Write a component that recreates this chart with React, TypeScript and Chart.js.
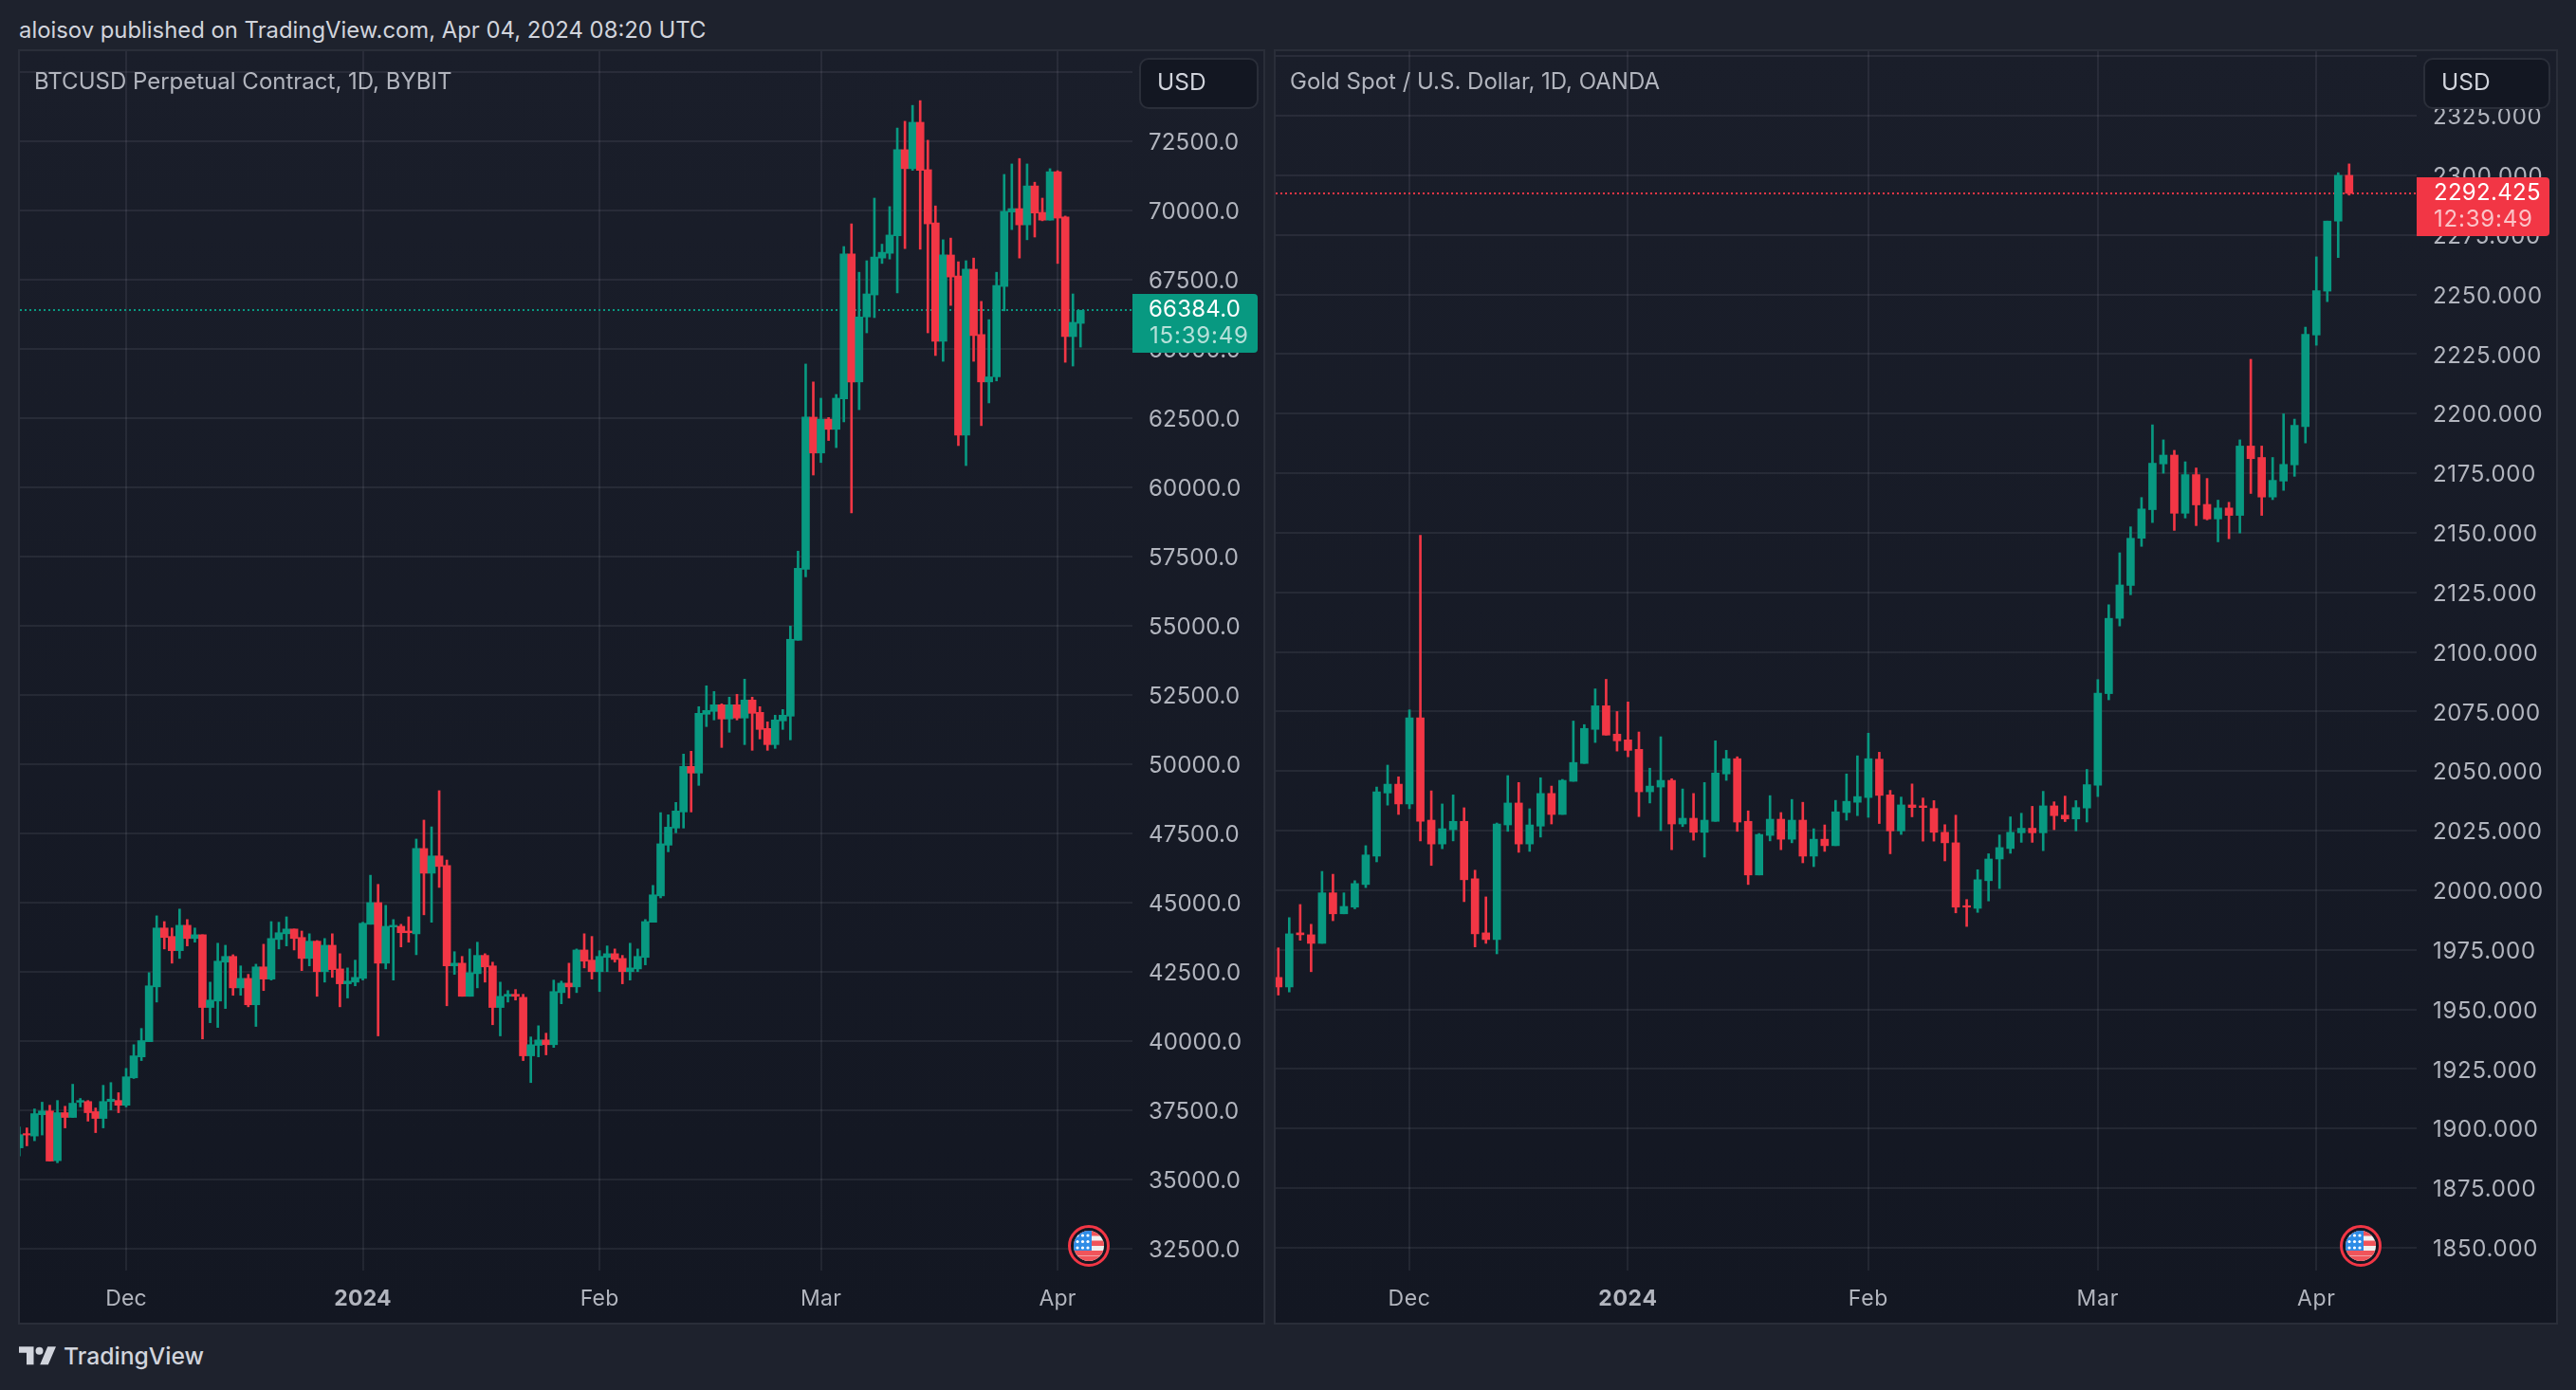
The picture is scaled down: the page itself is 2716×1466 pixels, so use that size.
import React, { useEffect, useRef } from "react";
import { Chart, registerables } from "chart.js";

Chart.register(...registerables);

const headerText = "aloisov published on TradingView.com, Apr 04, 2024 08:20 UTC";

const btcTitle = "BTCUSD Perpetual Contract, 1D, BYBIT";
const btcTimer = "15:39:49";
const btcYTicks = [32500, 35000, 37500, 40000, 42500, 45000, 47500, 50000, 52500, 55000, 57500, 60000, 62500, 65000, 67500, 70000, 72500, 75000];
const btcMonthIdx = [14, 45, 76, 105, 136];
const goldMonthIdx = [12, 32, 54, 75, 95];
const monthLabels = ["Dec", "2024", "Feb", "Mar", "Apr"];

const btcOpen = [36150,36664,36578,37347,37481,35687,37420,37249,37799,37823,37457,37213,37823,37860,37689,38678,39435,39984,41962,44087,
43782,43269,44185,43708,43843,41218,41450,42854,43061,41926,42268,41315,42683,42243,43672,43879,44050,43745,42988,43611,
42512,43464,42610,42072,42133,42268,44221,45003,42817,44124,44148,43977,43879,46956,46065,46688,46346,42719,42817,41621,
42439,43098,42719,41218,41621,41694,41584,39472,39850,40045,39875,41755,42097,41962,43293,42927,42512,43025,43159,42988,
42512,42610,43025,44295,45247,47077,47694,48276,49920,49680,51803,51906,52145,51632,52145,51666,52317,51871,51289,50707,
51563,51734,54474,57038,62528,61233,62455,62088,63188,68418,63799,66145,66939,68271,68442,69078,72182,71497,73172,71461,
69542,65265,68381,67624,61880,67868,65510,63799,63982,67245,69933,70055,69469,70874,69921,69640,71387,69750,65436,65913];
const btcHigh = [36908,36871,37555,37799,37689,37860,37652,38446,37933,37860,37591,38409,38507,38141,39020,39875,40461,42475,44527,44319,
44087,44771,44392,44087,43843,42133,43538,43464,43122,42719,42414,42781,43501,44319,44295,44490,44050,43977,43879,43635,
43708,43879,43159,42646,42927,44295,45992,45662,44905,44392,44221,44490,47298,47982,47738,49044,46541,43232,43061,43330,
43574,43159,42854,42133,41828,41865,41694,40155,40558,40290,42207,42170,42817,43330,43879,43782,43269,43440,43330,43098,
43538,43330,44392,45625,48251,48173,48619,50365,50468,52077,52830,52625,52180,52420,52522,53070,52420,52077,51529,51769,
51974,54988,57691,64446,63799,63212,62516,63347,68687,69506,67758,68174,70434,68772,70129,72964,73208,73783,73954,72524,
70153,68931,68992,68137,68174,68271,66707,66047,67758,71290,71668,71864,71668,71009,70434,71497,71424,69787,66976,66384];
const btcLow = [35857,36224,36407,36614,35674,35613,36871,37249,37628,37115,36700,36871,37518,37420,37628,38654,39301,39984,41413,43330,
42817,42988,43440,43574,40082,40668,40497,41181,41657,41657,41242,40534,41828,42207,43330,43440,43293,42549,42719,41621,
42133,42304,41242,41560,41999,42207,44221,40192,42610,42207,43403,43574,43122,44563,44295,45552,41279,42414,41621,41621,
41926,42133,40595,40192,41413,41486,39301,38507,39435,39508,39777,41352,41560,41755,42646,42243,41792,42512,42854,42072,
42207,42512,42756,44295,45174,46838,47523,47694,48276,49235,51358,51597,50604,51152,51597,50707,50501,50912,50501,50570,
51255,50878,54474,56763,60438,60890,61685,61428,62357,59070,62797,65571,66121,68076,68235,67013,68613,71436,68589,65571,
64752,64544,66561,61501,60780,64544,62222,63041,63835,66365,69298,68271,68931,69029,69616,69640,68076,64508,64373,65057];
const btcClose = [36627,36614,37384,37481,35674,37420,37249,37762,37860,37420,37213,37823,37909,37689,38715,39472,40021,41999,44087,43745,
43269,44185,43708,43843,41218,41486,42890,43061,41926,42268,41315,42683,42243,43708,43916,44050,43708,42988,43611,42512,
43464,42585,42072,42170,42304,44258,45003,42817,44148,44185,43916,43916,46956,46065,46688,46309,42719,42817,41621,42475,
43098,42683,41218,41621,41694,41621,39472,39875,40045,39875,41792,42097,41962,43293,42890,42512,43061,43159,42951,42512,
42646,43061,44319,45284,47127,47728,48310,49920,49680,51837,51940,52145,51632,52145,51666,52317,51837,51255,50707,51597,
51769,54509,57072,62528,61233,62455,62088,63212,68418,63799,66145,66976,68308,68479,69102,72182,71497,73172,71436,69506,
65265,68381,67587,61880,67868,65473,63799,63982,67281,69958,70055,69469,70874,69897,69640,71387,69713,65436,65950,66384];

const goldTitle = "Gold Spot / U.S. Dollar, 1D, OANDA";
const goldTimer = "12:39:49";
const goldYTicks = [1850,1875,1900,1925,1950,1975,2000,2025,2050,2075,2100,2125,2150,2175,2200,2225,2250,2275,2300,2325,2350];

const goldOpen = [1963.4,1959.4,1982.1,1981.3,1977.7,1998.9,1990.1,1992.9,2002.4,2014.3,2040.8,2044.5,2036.2,2072.3,2029.4,2019.4,2025.4,2028.9,2004.8,1982.1,
1979.3,2027.4,2036.6,2019.4,2026.9,2040.6,2031.8,2045.7,2053.2,2067.5,2077.4,2065.5,2063.1,2059.1,2041.3,2043.3,2046.1,2027.8,2030.2,2024.3,
2028.9,2048.8,2055.2,2028.9,2006.4,2023.0,2029.8,2021.4,2029.4,2014.3,2021.4,2018.7,2032.6,2036.9,2038.9,2055.0,2040.0,2024.9,2035.8,2035.4,
2034.3,2024.3,2019.9,1993.5,1992.4,2004.0,2013.1,2017.5,2024.1,2026.0,2024.1,2035.4,2031.5,2029.9,2034.5,2044.1,2082.5,2114.1,2127.9,2147.7,
2159.7,2178.9,2182.6,2158.2,2174.4,2161.9,2155.8,2160.4,2157.3,2186.4,2181.6,2165.0,2171.7,2178.5,2194.6,2233.0,2251.4,2280.8,2300.0];
const goldHigh = [1975.8,1988.5,1994.0,1985.7,2007.9,2006.7,1998.9,2004.0,2018.7,2043.3,2052.5,2047.6,2075.7,2148.9,2041.7,2036.2,2040.0,2034.6,2008.4,1997.2,
2028.2,2048.1,2045.2,2034.2,2047.2,2043.7,2046.5,2071.0,2069.5,2084.5,2088.5,2075.0,2079.0,2066.4,2051.2,2064.4,2046.8,2042.5,2040.6,2045.2,
2062.7,2058.7,2056.0,2033.3,2023.8,2039.7,2032.6,2038.1,2036.9,2025.8,2027.4,2037.7,2048.8,2056.4,2065.9,2057.9,2041.9,2039.1,2044.6,2038.7,
2037.6,2027.5,2031.5,1996.1,2008.6,2015.3,2023.2,2030.8,2032.3,2035.2,2041.5,2037.1,2039.5,2037.6,2050.7,2088.4,2119.8,2141.6,2152.5,2164.8,
2195.3,2189.0,2184.6,2179.8,2177.2,2172.8,2163.7,2162.8,2189.0,2222.8,2186.4,2181.6,2199.9,2197.7,2236.3,2265.8,2280.8,2301.1,2304.8];
const goldLow = [1956.0,1957.3,1979.0,1965.8,1977.7,1987.2,1990.1,1992.2,2001.1,2011.9,2035.7,2031.8,2034.2,2020.7,2010.4,2017.4,2020.7,1995.2,1976.2,1977.7,
1973.3,2024.7,2015.9,2016.3,2022.3,2027.8,2031.8,2045.7,2053.2,2062.0,2065.1,2058.4,2056.0,2030.9,2036.6,2025.0,2017.0,2026.7,2021.0,2013.9,
2028.9,2046.1,2024.7,2002.4,2006.4,2020.7,2017.0,2019.9,2011.5,2009.9,2016.3,2018.7,2029.4,2031.3,2030.6,2028.0,2015.3,2023.4,2030.8,2020.6,
2020.6,2012.3,1990.5,1984.8,1990.7,1995.5,2000.7,2015.5,2020.1,2020.1,2016.6,2025.4,2028.8,2024.9,2028.6,2039.3,2079.9,2110.9,2124.0,2144.3,
2154.3,2175.0,2151.0,2156.2,2153.0,2155.4,2146.2,2147.5,2149.9,2166.5,2157.3,2163.9,2167.8,2173.7,2187.7,2228.7,2247.0,2265.5,2291.7];
const goldClose = [1959.4,1981.7,1981.3,1977.7,1998.9,1990.1,1993.2,2002.8,2014.8,2041.3,2044.5,2036.2,2072.3,2028.9,2019.4,2025.8,2028.9,2004.4,1981.7,1979.3,
2027.8,2036.6,2019.4,2027.4,2040.6,2031.8,2046.1,2053.6,2067.9,2077.4,2065.1,2062.7,2058.7,2041.3,2043.7,2046.1,2027.8,2030.2,2024.3,2029.4,
2049.2,2055.2,2028.6,2006.4,2023.4,2029.8,2021.4,2029.4,2014.3,2021.4,2018.7,2032.9,2037.3,2039.3,2055.2,2039.8,2024.9,2035.8,2034.7,2034.7,
2024.3,2019.9,1992.9,1992.9,2004.4,2013.1,2017.9,2024.3,2026.0,2024.1,2035.4,2031.3,2029.9,2034.7,2044.3,2082.7,2114.1,2128.1,2147.7,2160.0,
2179.2,2182.6,2158.2,2174.4,2161.7,2155.8,2160.4,2157.3,2186.4,2181.1,2165.0,2172.0,2178.7,2195.1,2233.3,2251.6,2280.8,2300.0,2292.425];

const GREEN = "#089981";
const RED = "#f23645";
const FONT = "Inter";
const axisText = "#b2b5be";

function roundRect(ctx: any, x: number, y: number, w: number, h: number, r: number | number[]) {
  ctx.beginPath();
  ctx.roundRect(x, y, w, h, r);
}

function drawFlag(ctx: any, cx: number, cy: number) {
  ctx.save();
  ctx.beginPath();
  ctx.arc(cx, cy, 20.5, 0, Math.PI * 2);
  ctx.fillStyle = "#131722";
  ctx.fill();
  ctx.lineWidth = 3;
  ctx.strokeStyle = RED;
  ctx.stroke();
  ctx.beginPath();
  ctx.arc(cx, cy, 16, 0, Math.PI * 2);
  ctx.clip();
  ctx.fillStyle = "#f0f0f0";
  ctx.fillRect(cx - 16, cy - 16, 32, 32);
  ctx.fillStyle = "#f0545a";
  ctx.fillRect(cx - 16, cy - 16, 32, 5.5);
  ctx.fillRect(cx - 16, cy - 5.5, 32, 5.5);
  ctx.fillRect(cx - 16, cy + 5, 32, 5);
  ctx.fillRect(cx - 16, cy + 10.5, 32, 6);
  ctx.fillStyle = "#2e8ce6";
  ctx.fillRect(cx - 16, cy - 16, 19, 21);
  ctx.fillStyle = "#ffffff";
  for (let r = 0; r < 3; r++) {
    for (let c = 0; c < 3; c++) {
      ctx.beginPath();
      ctx.arc(cx - 12 + c * 5.5, cy - 11 + r * 6.5, 1.6, 0, Math.PI * 2);
      ctx.fill();
    }
  }
  ctx.restore();
}

type PanelCfg = {
  title: string;
  titleX: number;
  lastClose: number;
  lastOpen: number;
  lastText: string;
  timer: string;
  colour: string;
  box: number[];
  textX: number;
  timerX: number;
  priceY: number;
  timerY: number;
  usd: number[];
  usdX: number;
  flag: number[];
  w: number;
  h: number;
  spacing: string;
  priceSpacing: string;
};

function panelPlugin(cfg: PanelCfg) {
  let shifted = false;
  return {
    id: "panel",
    beforeDraw(chart: any) {
      const { ctx } = chart;
      const g = ctx.createLinearGradient(0, 0, 0, cfg.h);
      g.addColorStop(0, "#1a1e2a");
      g.addColorStop(1, "#131722");
      ctx.save();
      ctx.fillStyle = g;
      ctx.fillRect(0, 0, cfg.w, cfg.h);
      ctx.strokeStyle = "#2a2e39";
      ctx.lineWidth = 2;
      ctx.strokeRect(1, 1, cfg.w - 2, cfg.h - 2);
      ctx.restore();
      ctx.letterSpacing = cfg.spacing;
      if (!shifted) {
        shifted = true;
        chart.scales.y.getLabelItems(chart.chartArea).forEach((it: any) => {
          it.options.translation[1] += 2;
        });
      }
    },
    beforeDatasetsDraw(chart: any) {
      const { ctx, chartArea, scales } = chart;
      const y = Math.round(scales.y.getPixelForValue(cfg.lastClose));
      ctx.save();
      ctx.strokeStyle = cfg.colour;
      ctx.lineWidth = 2;
      ctx.setLineDash([2, 3]);
      ctx.beginPath();
      ctx.moveTo(chartArea.left, y);
      ctx.lineTo(chartArea.right, y);
      ctx.stroke();
      ctx.restore();
    },
    afterDraw(chart: any) {
      const { ctx } = chart;
      ctx.save();
      ctx.letterSpacing = "0px";
      ctx.textBaseline = "middle";
      ctx.textAlign = "left";
      // legend title
      ctx.font = `400 24px ${FONT}`;
      ctx.fillStyle = axisText;
      ctx.fillText(cfg.title, cfg.titleX, 35);
      // currency button
      roundRect(ctx, cfg.usd[0], cfg.usd[1], cfg.usd[2], cfg.usd[3], 9);
      ctx.fillStyle = "#131722";
      ctx.fill();
      ctx.strokeStyle = "#2a2e39";
      ctx.lineWidth = 2;
      ctx.stroke();
      ctx.font = `400 24.5px ${FONT}`;
      ctx.fillStyle = "#d1d4dc";
      ctx.fillText("USD", cfg.usdX, 36);
      // last price label
      roundRect(ctx, cfg.box[0], cfg.box[1], cfg.box[2], cfg.box[3], [0, 4, 4, 0]);
      ctx.fillStyle = cfg.colour;
      ctx.fill();
      ctx.font = `400 24px ${FONT}`;
      ctx.letterSpacing = cfg.priceSpacing;
      ctx.fillStyle = "#ffffff";
      ctx.fillText(cfg.lastText, cfg.textX, cfg.priceY);
      ctx.letterSpacing = "0.8px";
      ctx.fillStyle = "rgba(255,255,255,0.7)";
      ctx.fillText(cfg.timer, cfg.timerX, cfg.timerY);
      ctx.letterSpacing = "0px";
      drawFlag(ctx, cfg.flag[0], cfg.flag[1]);
      ctx.restore();
    },
  };
}

function makeChart(
  canvas: HTMLCanvasElement,
  open: number[],
  high: number[],
  low: number[],
  close: number[],
  yTicks: number[],
  monthIdx: number[],
  xMin: number,
  xMax: number,
  yMin: number,
  yMax: number,
  decimals: number,
  pad: any,
  yAxisWidth: number,
  cfg: PanelCfg
) {
  const colourOf = (c: any) => (close[c.dataIndex] >= open[c.dataIndex] ? GREEN : RED);
  const topTick = yTicks[yTicks.length - 1];
  return new Chart(canvas, {
    type: "bar",
    data: {
      datasets: [
        {
          label: "body",
          order: 0,
          data: open.map((o, i) => ({ x: i, y: [o, close[i]] })),
          backgroundColor: colourOf,
          barThickness: 8,
          grouped: false,
          borderWidth: 0,
        },
        {
          label: "wick",
          order: 1,
          data: open.map((_o, i) => ({ x: i, y: [low[i], high[i]] })),
          backgroundColor: colourOf,
          barThickness: 2,
          grouped: false,
          borderWidth: 0,
        },
      ] as any,
    },
    options: {
      animation: false,
      responsive: false,
      devicePixelRatio: 1,
      layout: { padding: pad },
      plugins: { legend: { display: false }, tooltip: { enabled: false }, title: { display: false } },
      scales: {
        x: {
          type: "linear",
          min: xMin,
          max: xMax,
          offset: false,
          afterBuildTicks: (s: any) => {
            s.ticks = monthIdx.map((v) => ({ value: v }));
          },
          afterFit: (s: any) => {
            s.height = 54;
            s.paddingLeft = 0;
            s.paddingRight = 0;
          },
          grid: { color: "rgba(240,243,250,0.07)", lineWidth: 2, drawTicks: false, offset: false },
          border: { display: false },
          ticks: {
            autoSkip: false,
            maxRotation: 0,
            padding: 16,
            color: axisText,
            font: (c: any) => ({
              family: FONT,
              size: 23,
              weight: c.index === 1 ? "bold" : "normal",
            }),
            callback: (v: any) => monthLabels[monthIdx.indexOf(v)],
          },
        },
        y: {
          type: "linear",
          position: "right",
          min: yMin,
          max: yMax,
          afterBuildTicks: (s: any) => {
            s.ticks = yTicks.map((v) => ({ value: v }));
          },
          afterFit: (s: any) => {
            s.width = yAxisWidth;
            s.paddingTop = 0;
            s.paddingBottom = 0;
          },
          grid: { color: "rgba(240,243,250,0.07)", lineWidth: 2, drawTicks: false },
          border: { display: false },
          ticks: {
            padding: 17,
            color: axisText,
            font: { family: FONT, size: 24 },
            callback: (v: any) => (v === topTick ? "" : Number(v).toFixed(decimals)),
          },
        },
      },
    } as any,
    plugins: [panelPlugin(cfg)],
  });
}

export default function App() {
  const leftRef = useRef<HTMLCanvasElement>(null);
  const rightRef = useRef<HTMLCanvasElement>(null);

  useEffect(() => {
    const lx = 19, ly = 52;
    const left = makeChart(
      leftRef.current!, btcOpen, btcHigh, btcLow, btcClose, btcYTicks, btcMonthIdx,
      0.087, 145.8, 31722, 75738, 1,
      { left: 2, top: 2, right: 2, bottom: 3 }, 138,
      {
        title: btcTitle, titleX: 36 - lx,
        lastClose: btcClose[btcClose.length - 1], lastOpen: btcOpen[btcOpen.length - 1],
        lastText: btcClose[btcClose.length - 1].toFixed(1), timer: btcTimer, colour: GREEN,
        box: [1194 - lx, 310 - ly, 132, 62], textX: 1211 - lx, timerX: 1212 - lx,
        priceY: 327 - ly, timerY: 355 - ly,
        usd: [1202 - lx, 62 - ly, 124, 52], usdX: 1220 - lx,
        flag: [1148 - lx, 1314 - ly], w: 1315, h: 1345, spacing: "0.2px", priceSpacing: "0.2px",
      }
    );
    const rx = 1343, ry = 52;
    const right = makeChart(
      rightRef.current!, goldOpen, goldHigh, goldLow, goldClose, goldYTicks, goldMonthIdx,
      -0.243, 104.18, 1840.4, 2352.1, 3,
      { left: 2, top: 2, right: 2, bottom: 3 }, 147,
      {
        title: goldTitle, titleX: 1360 - rx,
        lastClose: goldClose[goldClose.length - 1], lastOpen: goldOpen[goldOpen.length - 1],
        lastText: goldClose[goldClose.length - 1].toFixed(3), timer: goldTimer, colour: RED,
        box: [2548 - rx, 187 - ry, 140, 62], textX: 2566 - rx, timerX: 2566 - rx,
        priceY: 204 - ry, timerY: 232 - ry,
        usd: [2556 - rx, 62 - ry, 132, 52], usdX: 2574 - rx,
        flag: [2489 - rx, 1314 - ry], w: 1354, h: 1345, spacing: "0.7px", priceSpacing: "0.3px",
      }
    );
    return () => {
      left.destroy();
      right.destroy();
    };
  }, []);

  return (
    <div style={{ position: "fixed", left: 0, top: 0, width: 2716, height: 1466, background: "#1e222d", overflow: "hidden", fontFamily: FONT }}>
      <div style={{ position: "absolute", left: 20, top: 18, fontSize: 23.85, lineHeight: "28px", color: "#d1d4dc", whiteSpace: "nowrap" }}>{headerText}</div>
      <canvas ref={leftRef} width={1315} height={1345} style={{ position: "absolute", left: 19, top: 52, width: 1315, height: 1345 }} />
      <canvas ref={rightRef} width={1354} height={1345} style={{ position: "absolute", left: 1343, top: 52, width: 1354, height: 1345 }} />
      <svg style={{ position: "absolute", left: 20, top: 1420 }} width={42} height={22} viewBox="0 0 42 22">
        <path d="M0 0.3H15.5V19.3H8V6.8H0Z M34.3 0.3H39L30.8 19.3H22.2L30.2 0.3Z" fill="#d1d4dc" />
        <circle cx="21.5" cy="4.8" r="4" fill="#d1d4dc" />
      </svg>
      <div style={{ position: "absolute", left: 67, top: 1414, fontSize: 24.7, lineHeight: "32px", fontWeight: 500, color: "#d1d4dc", whiteSpace: "nowrap" }}>TradingView</div>
    </div>
  );
}
